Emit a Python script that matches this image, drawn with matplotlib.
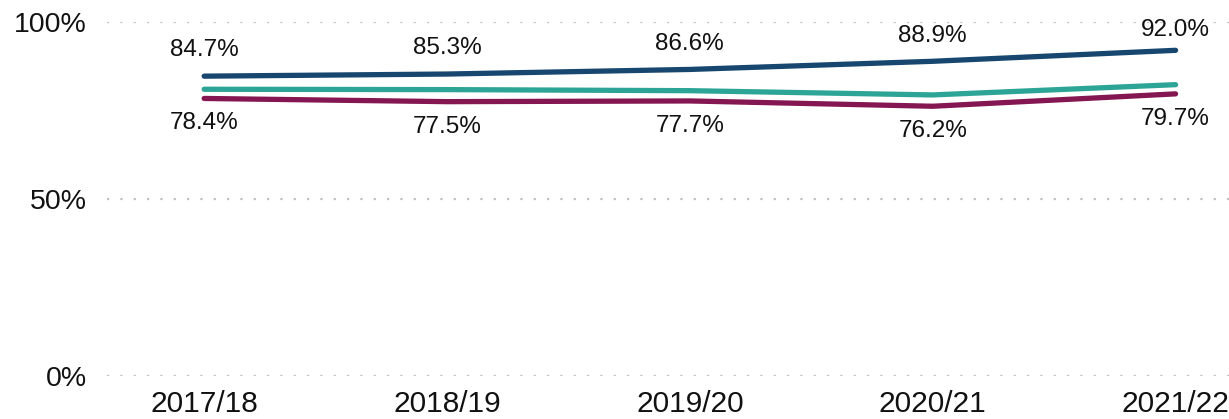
import matplotlib.pyplot as plt

years = ["2017/18", "2018/19", "2019/20", "2020/21", "2021/22"]
top_vals = [84.7, 85.3, 86.6, 88.9, 92.0]
mid_vals = [81.0, 80.9, 80.6, 79.4, 82.3]
low_vals = [78.4, 77.5, 77.7, 76.2, 79.7]

navy = "#17466f"
teal = "#2ca597"
maroon = "#841651"

plt.rcParams['font.family'] = ['Liberation Sans', 'DejaVu Sans']

fig = plt.figure(figsize=(12.29, 4.19), dpi=100)
ax = fig.add_axes([107 / 1229, 43 / 419, 1122 / 1229, 354 / 419])

x = list(range(len(years)))
ax.plot(x, top_vals, color=navy, lw=3.8, solid_capstyle='round', zorder=3)
ax.plot(x, mid_vals, color=teal, lw=3.8, solid_capstyle='round', zorder=3)
ax.plot(x, low_vals, color=maroon, lw=3.8, solid_capstyle='round', zorder=3)

# labels above the top line, below the bottom line
for i, v in enumerate(top_vals):
    off = 14.5 if i == len(top_vals) - 1 else 18.5
    ax.annotate(f"{v:.1f}%", (i, v), xytext=(0, off), textcoords='offset points',
                ha='center', va='center', fontsize=17.5, color='#111111')
for i, v in enumerate(low_vals):
    ax.annotate(f"{v:.1f}%", (i, v), xytext=(0, -18), textcoords='offset points',
                ha='center', va='center', fontsize=17.5, color='#111111')

ax.set_xlim(-0.4, 4.22)
ax.set_ylim(0, 100)
ax.set_yticks([0, 50, 100])
ax.set_yticklabels(["0%", "50%", "100%"])
ax.set_xticks(x)
ax.set_xticklabels(years)
ax.tick_params(axis='both', length=0, colors='#111111')
ax.tick_params(axis='y', pad=14.5, labelsize=20.5)
ax.tick_params(axis='x', pad=10, labelsize=21.5)

ax.grid(axis='y', color='#c0c0c0', linestyle=(0, (1, 5)), lw=1.6)
ax.grid(axis='x', visible=False)
for s in ax.spines.values():
    s.set_visible(False)

fig.savefig("out.png", dpi=100)
